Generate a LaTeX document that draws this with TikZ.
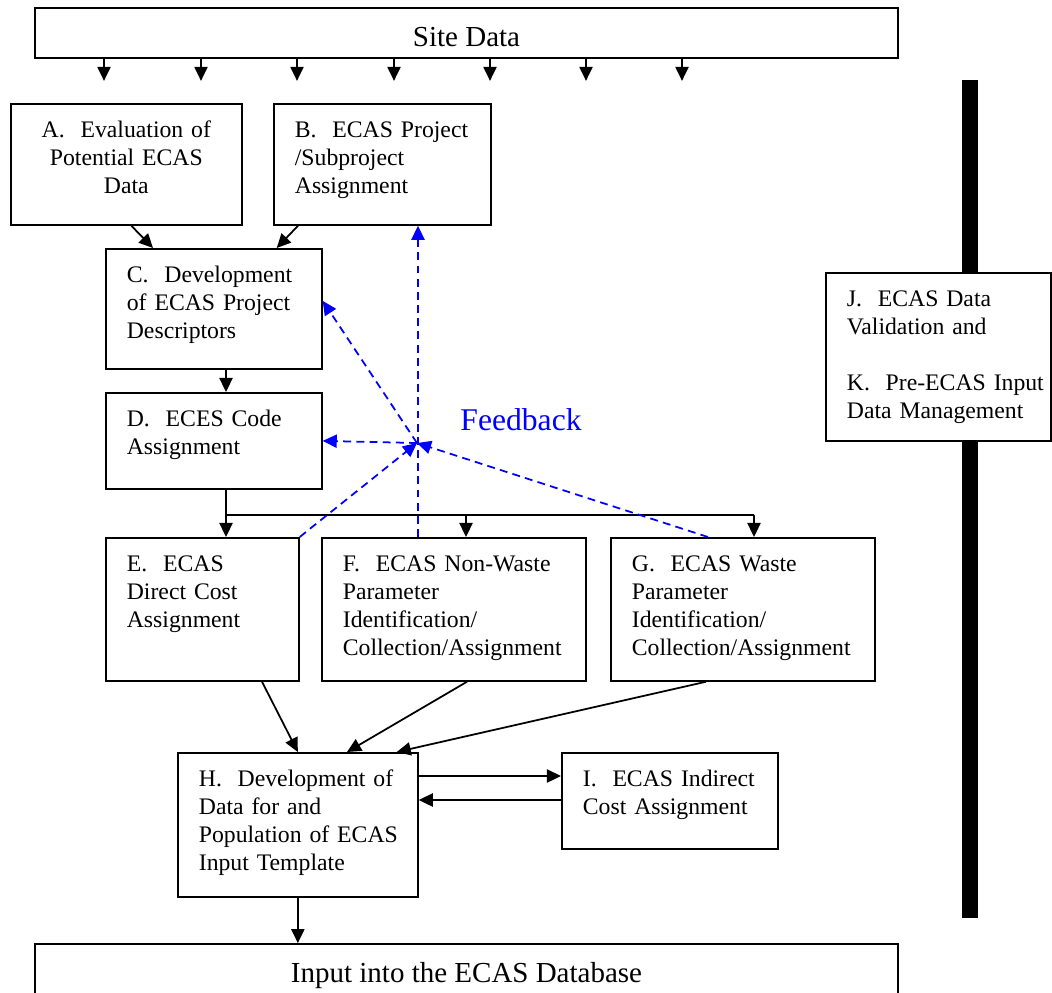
\documentclass[tikz,border=0pt]{standalone}
\usepackage{fontspec}
\setmainfont{Liberation Serif}
\usetikzlibrary{arrows.meta,calc}

\newcommand\bodyfont{\fontsize{13.5}{15.9}\selectfont\hyphenpenalty=10000}
\newcommand\barfont{\fontsize{16.5}{19}\selectfont}
\newcommand\fbfont{\fontsize{18}{21}\selectfont}

\begin{document}
\begin{tikzpicture}[x=0.02cm,y=-0.02cm,
    ln/.style={line width=1pt},
    arr/.style={ln,-{Triangle[length=8pt,width=7.5pt]}},
    fbk/.style={arr,blue,dash pattern=on 4.5pt off 3pt},
    blk/.style 2 args={draw,ln,anchor=north west,align=left,font=\bodyfont,
        inner xsep=0pt,inner ysep=0.2cm,minimum width=#1cm,text width=#1cm,
        text height=0.48cm,text depth=#2cm-0.88cm,
        execute at begin node={\leftskip=0.42cm}},
    mid/.style={execute at begin node={\leftskip=0pt plus 1fil\rightskip=0pt plus 1fil\parfillskip=0pt}},
    bar/.style={draw,ln,minimum width=17.26cm,minimum height=1cm,font=\barfont,
        text height=0.54cm,text depth=0pt}]
    \useasboundingbox (0,0) rectangle (1052,992);

    \node[bar] (site) at (466.5,33) {Site Data};
    \node[bar] (db) at (466.5,969) {Input into the ECAS Database};

    % boxes
    \node[blk={4.62}{2.42},mid] (A) at (10,103) {A.\ \ Evaluation of\\Potential ECAS\\Data};
    \node[blk={4.34}{2.42}] (B) at (273,103) {B.\ \ ECAS Project\\/Subproject\\Assignment};
    \node[blk={4.32}{2.40}] (C) at (105,248) {C.\ \ Development\\of ECAS Project\\Descriptors};
    \node[blk={4.32}{1.92}] (D) at (105,392) {D.\ \ ECES Code\\Assignment};
    \node[blk={3.86}{2.86}] (E) at (105,537) {E.\ \ ECAS\\Direct Cost\\Assignment};
    \node[blk={5.28}{2.86}] (F) at (321,537) {F.\ \ ECAS Non-Waste\\Parameter\\Identification/\\Collection/Assignment};
    \node[blk={5.28}{2.86}] (G) at (610,537) {G.\ \ ECAS Waste\\Parameter\\Identification/\\Collection/Assignment};
    \node[blk={4.80}{2.88}] (H) at (177,752) {H.\ \ Development of\\Data for and\\Population of ECAS\\Input Template};
    \node[blk={4.32}{1.92}] (I) at (561,752) {I.\ \ ECAS Indirect\\Cost Assignment};

    % side bar
    \fill (962,80) rectangle (978,918);
    \node[blk={4.50}{3.36},fill=white] (JK) at (825,272) {J.\ \ ECAS Data\\Validation and\\[15.9pt]K.\ \ Pre-ECAS Input\\Data Management};

    \node[font=\fbfont,text=blue] (fbl) at (521,420) {Feedback};
    \coordinate (fb) at (417,443);

    \foreach \x in {104,201,297,394,490,586,682}
        \draw[arr] (site.south -| \x,0) -- ++(0,22);

    \draw[arr] ($(A.south)+(5,0)$) -- ($(C.north west)+(48,0)$);
    \draw[arr] ($(B.south west)+(25,0)$) -- ($(C.north east)+(-46,0)$);
    \draw[arr] ($(C.south west)+(121,0)$) -- ($(D.north west)+(121,0)$);
    \draw[ln] ($(D.south west)+(121,0)$) -- ++(0,25) coordinate (jn);
    \draw[ln] (jn) -- ($(jn)+(528,0)$);
    \draw[arr] (jn) -- (jn |- E.north);
    \draw[arr] ($(jn)+(240,0)$) -- ($(F.north west)+(145,0)$);
    \draw[arr] ($(jn)+(528,0)$) -- ($(G.north west)+(144,0)$);

    \draw[arr] ($(E.south west)+(157,0)$) -- (H.north);
    \draw[arr] ($(F.south west)+(146,0)$) -- ($(H.north west)+(170,0)$);
    \draw[arr] ($(G.south west)+(96,0)$) -- ($(H.north east)+(-22,0)$);
    \draw[arr] ($(H.north east)+(0,24)$) -- ($(I.north west)+(0,24)$);
    \draw[arr] ($(I.north west)+(0,48)$) -- ($(H.north east)+(0,48)$);
    \draw[arr] (H.south) -- (H.south |- db.north);

    % feedback
    \draw[fbk] (fb) -- ($(C.east)+(0,-8)$);
    \draw[fbk] (fb) -- (D.east);
    \draw[fbk] ($(F.north west)+(97,0)$) -- ($(B.south west)+(145,0)$);
    \draw[fbk] (E.north east) -- (fb);
    \draw[fbk] ($(G.north west)+(98,0)$) -- (fb);
\end{tikzpicture}
\end{document}
